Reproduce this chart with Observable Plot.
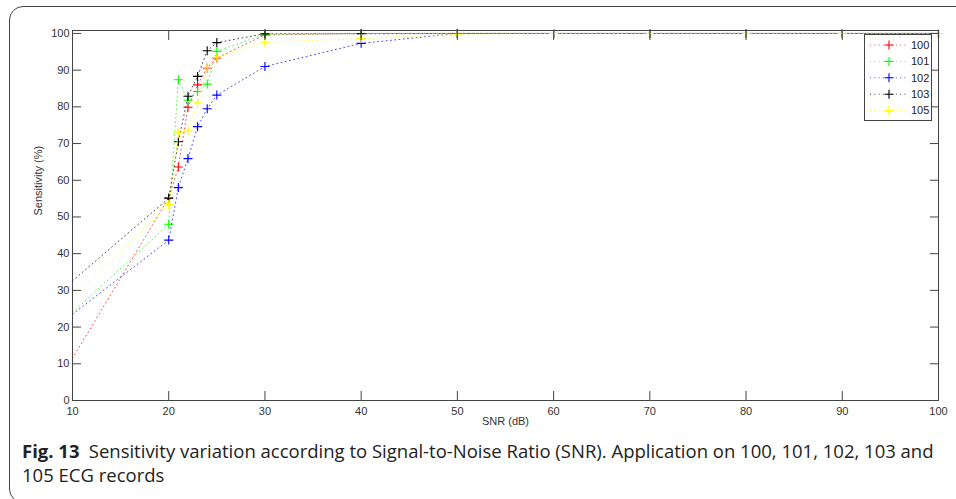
<!DOCTYPE html>
<html><head><meta charset="utf-8">
<script src="https://cdn.jsdelivr.net/npm/d3@7"></script>
<script src="https://cdn.jsdelivr.net/npm/@observablehq/plot@0.6"></script>
<style>
body{margin:0;background:#fff;overflow:hidden}
#wrap{position:relative;width:956px;height:499px;overflow:hidden;background:#fff}
#border{position:absolute;left:9px;top:6px;width:1000px;height:497px;border:1px solid #444;border-radius:14px;box-sizing:border-box}
#chart{position:absolute;left:0;top:0}
#legend{position:absolute;left:864px;top:34px}
#caption{position:absolute;left:22px;top:439px;font-family:"Open Sans";font-size:18.5px;line-height:24px;color:#222;white-space:nowrap}
#caption b{font-weight:700}
</style></head><body>
<div id="wrap"><div id="border"></div><div id="chart"></div><svg id="legend" width="70" height="90"></svg><div id="caption"></div></div>
<script>
// ---- data ----
const snr = [10, 20, 21, 22, 23, 24, 25, 30, 40, 50, 60, 70, 80, 90, 100];
const rec100 = [11.5, 55.2, 63.6, 79.9, 86.0, 90.6, 93.3, 99.6, 100, 100, 100, 100, 100, 100, 100];
const rec101 = [24.0, 48.0, 87.4, 81.8, 84.2, 86.2, 95.1, 99.8, 100, 100, 100, 100, 100, 100, 100];
const rec102 = [23.5, 43.7, 58.0, 65.9, 74.6, 79.5, 83.2, 91.0, 97.3, 100, 100, 100, 100, 100, 100];
const rec103 = [32.6, 55.1, 70.5, 82.9, 88.3, 95.3, 97.5, 99.9, 99.9, 100, 100, 100, 100, 100, 100];
const rec105 = [27.6, 53.4, 72.9, 73.4, 81.1, 90.8, 93.5, 97.6, 98.6, 99.8, 100, 100, 100, 100, 100];
const seriesNames = ["100", "101", "102", "103", "105"];
const seriesColors = ["#ff0000", "#00ff00", "#0000ff", "#000000", "#ffff00"];
const xTicks = [10, 20, 30, 40, 50, 60, 70, 80, 90, 100];
const yTicks = [0, 10, 20, 30, 40, 50, 60, 70, 80, 90, 100];
const xLabel = "SNR (dB)";
const yLabel = "Sensitivity (%)";
const captionBold = "Fig. 13";
const captionLine1 = "Sensitivity variation according to Signal-to-Noise Ratio (SNR). Application on 100, 101, 102, 103 and";
const captionLine2 = "105 ECG records";

const values = [rec100, rec101, rec102, rec103, rec105];
const data = seriesNames.flatMap((s, i) => snr.map((x, j) => ({series: s, x, y: values[i][j]})));
const plus = {draw(ctx, size) {const r = Math.sqrt(size / Math.PI); ctx.moveTo(-r, 0); ctx.lineTo(r, 0); ctx.moveTo(0, -r); ctx.lineTo(0, r);}};
const axisColor = "#444";
const dash = "1,3.3";

const plot = Plot.plot({
  width: 956, height: 440,
  marginLeft: 72, marginRight: 18, marginTop: 30, marginBottom: 40,
  style: {fontFamily: "Liberation Sans, Arial, sans-serif", fontSize: "11px", color: "#333", background: "transparent"},
  x: {domain: [10, 100]},
  y: {domain: [0, 100.8]},
  color: {domain: seriesNames, range: seriesColors},
  marks: [
    ...seriesNames.flatMap(s => [
      Plot.line(data.filter(d => d.series === s), {x: "x", y: "y", stroke: "series", strokeWidth: 1, strokeOpacity: 0.7, strokeDasharray: dash}),
      Plot.dot(data.filter(d => d.series === s && d.x > 10), {x: "x", y: "y", stroke: "series", fill: "none", symbol: plus, r: 4.5, strokeWidth: 1.1})
    ]),
    Plot.frame({stroke: axisColor}),
    Plot.axisX(xTicks, {anchor: "bottom", tickSize: 0, tickPadding: 7, label: null}),
    Plot.axisX(xTicks, {anchor: "bottom", tickSize: -9, fill: "none", stroke: axisColor, label: null}),
    Plot.axisX(xTicks, {anchor: "top", tickSize: -9, fill: "none", stroke: axisColor, label: null}),
    Plot.axisY(yTicks, {anchor: "left", tickSize: 0, tickPadding: 3, label: null}),
    Plot.axisY(yTicks, {anchor: "left", tickSize: -9, fill: "none", stroke: axisColor, label: null}),
    Plot.axisY(yTicks, {anchor: "right", tickSize: -9, fill: "none", stroke: axisColor, label: null}),
    Plot.text([xLabel], {frameAnchor: "bottom", dy: 24, fill: "#333"}),
    Plot.text([yLabel], {frameAnchor: "left", dx: -34, rotate: -90, fill: "#333"})
  ]
});
document.getElementById("chart").appendChild(plot);

// legend
const lg = d3.select("#legend");
lg.append("rect").attr("x", 0.5).attr("y", 0.5).attr("width", 67).attr("height", 86).attr("fill", "#fff").attr("stroke", axisColor);
seriesNames.forEach((s, i) => {
  const y = 11 + i * 16.4;
  const g = lg.append("g").attr("transform", `translate(0,${y})`);
  g.append("line").attr("x1", 6).attr("x2", 43).attr("y1", 0).attr("y2", 0).attr("stroke", seriesColors[i]).attr("stroke-width", 1).attr("stroke-opacity", 0.7).attr("stroke-dasharray", dash);
  g.append("path").attr("d", "M20.5,0H29.5M25,-4.5V4.5").attr("stroke", seriesColors[i]).attr("stroke-width", 1.1).attr("fill", "none");
  g.append("text").attr("x", 47).attr("y", 0).attr("dy", "0.35em").attr("font-family", "Liberation Sans, Arial, sans-serif").attr("font-size", 11).attr("fill", "#222").text(s);
});

const cap = document.getElementById("caption");
cap.innerHTML = "";
const l1 = document.createElement("div");
const b = document.createElement("b"); b.textContent = captionBold;
l1.appendChild(b); l1.appendChild(document.createTextNode("\u2002" + captionLine1));
const l2 = document.createElement("div"); l2.textContent = captionLine2;
cap.appendChild(l1); cap.appendChild(l2);
</script>
</body></html>
